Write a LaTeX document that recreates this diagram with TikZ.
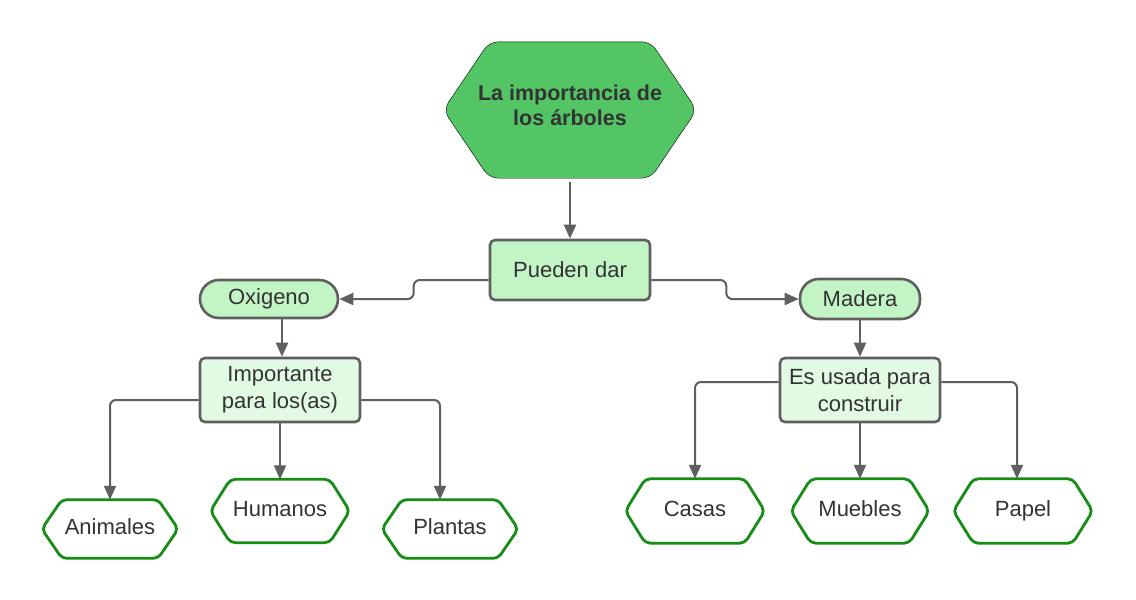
\documentclass[tikz,border=0pt]{standalone}
\usepackage{fontspec}
\setmainfont{Liberation Sans}
\usetikzlibrary{arrows.meta}
\definecolor{bigfill}{HTML}{53C565}
\definecolor{midfill}{HTML}{C3F4C6}
\definecolor{lightfill}{HTML}{E2F9E3}
\definecolor{edgegray}{HTML}{5F5F5F}
\definecolor{hexgreen}{HTML}{178C17}
\definecolor{txt}{HTML}{333333}
\newcommand{\hexoutline}[3]{%
  \draw[#3] (#1.west) -- ([xshift=#2]#1.north west) -- ([xshift=-#2]#1.north east)
    -- (#1.east) -- ([xshift=-#2]#1.south east) -- ([xshift=#2]#1.south west) -- cycle;}
\tikzset{
  every node/.style={text=txt, font=\fontsize{22}{27}\selectfont, align=center},
  boxmid/.style={draw=edgegray, fill=midfill, line width=2.6pt, rounded corners=5pt, inner sep=0pt},
  boxlight/.style={draw=edgegray, fill=lightfill, line width=2.6pt, rounded corners=5pt, inner sep=0pt},
  pill/.style={draw=edgegray, fill=midfill, line width=2.6pt, rounded corners=19pt, inner sep=0pt},
  hexspace/.style={inner sep=0pt},
  leaflabel/.style={text height=16pt, text depth=5pt, inner sep=0pt},
  hexline/.style={draw=hexgreen, fill=white, line width=2.8pt, rounded corners=5pt},
  bighex/.style={fill=bigfill, rounded corners=9pt},
  conn/.style={draw=edgegray, line width=2pt, rounded corners=6pt, -{Triangle[length=14pt,width=12pt]}}
}
\begin{document}
\begin{tikzpicture}[x=1pt,y=-1pt]
\useasboundingbox[fill=white] (0,0) rectangle (1136,600);
% title hexagon
\node[hexspace, minimum width=253pt, minimum height=136pt] (title) at (570,110) {};
\hexoutline{title}{46pt}{bighex}
\node[font=\fontsize{21.5}{25}\selectfont\bfseries] (titletext) at (570,105) {La importancia de\\los árboles};
% level 1
\node[boxmid, minimum width=160pt, minimum height=60pt] (pd) at (570,270) {Pueden dar};
\node[pill, minimum width=138pt, minimum height=38pt] (oxi) at (269,299) {Oxigeno};
\node[pill, minimum width=120pt, minimum height=40pt] (mad) at (860,299) {Madera};
\node[boxlight, minimum width=160pt, minimum height=64pt] (imp) at (280,390) {Importante\\para los(as)};
\node[boxlight, minimum width=160pt, minimum height=64pt] (usa) at (860,390) {Es usada para\\construir};
% leaves
\node[hexspace, minimum width=136pt, minimum height=58pt] (ani) at (110,529) {};
\node[hexspace, minimum width=139pt, minimum height=63pt] (hum) at (280,511) {};
\node[hexspace, minimum width=136pt, minimum height=58pt] (pla) at (450,529) {};
\node[hexspace, minimum width=139pt, minimum height=64pt] (cas) at (695,511) {};
\node[hexspace, minimum width=138pt, minimum height=64pt] (mue) at (860,511) {};
\node[hexspace, minimum width=139pt, minimum height=64pt] (pap) at (1023,511) {};
\hexoutline{ani}{20pt}{hexline}
\hexoutline{hum}{20pt}{hexline}
\hexoutline{pla}{20pt}{hexline}
\hexoutline{cas}{20pt}{hexline}
\hexoutline{mue}{20pt}{hexline}
\hexoutline{pap}{20pt}{hexline}
\node[leaflabel] (anit) at (ani) {Animales};
\node[leaflabel] (humt) at (hum) {Humanos};
\node[leaflabel] (plat) at (pla) {Plantas};
\node[leaflabel] (cast) at (cas) {Casas};
\node[leaflabel] (muet) at (mue) {Muebles};
\node[leaflabel] (papt) at (pap) {Papel};
% connectors
\draw[conn] ([yshift=-4pt]title.south) -- (pd.north);
\draw[conn] ([yshift=-10pt]pd.west) -- ++(-75,0) |- (oxi.east);
\draw[conn] ([yshift=-10pt]pd.east) -- ++(75,0) |- (mad.west);
\draw[conn] ([xshift=13pt]oxi.south) -- ([xshift=13pt]oxi.south |- imp.north);
\draw[conn] (mad.south) -- (usa.north);
\draw[conn] ([yshift=-10pt]imp.west) -| (ani.north);
\draw[conn] (imp.south) -- (hum.north);
\draw[conn] ([yshift=-10pt]imp.east) -| ([xshift=-10pt]pla.north);
\draw[conn] ([yshift=8pt]usa.west) -| (cas.north);
\draw[conn] (usa.south) -- (mue.north);
\draw[conn] ([yshift=8pt]usa.east) -| ([xshift=-6pt]pap.north);
\end{tikzpicture}
\end{document}
